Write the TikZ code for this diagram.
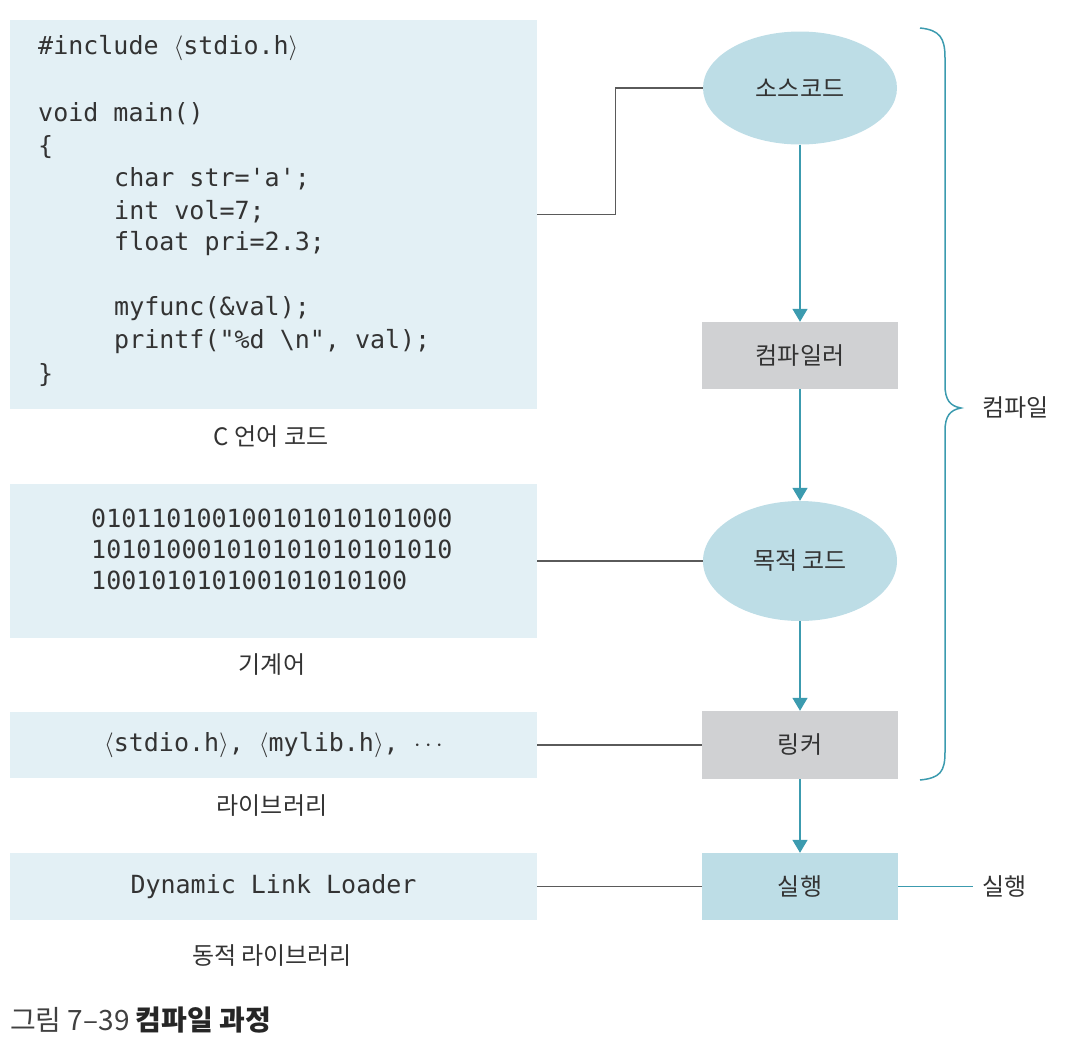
\documentclass[tikz,border=0pt]{standalone}
\usepackage{fontspec}
\setmainfont{Noto Sans CJK KR}
\newfontfamily\kr{Noto Sans CJK KR}
\newfontfamily\cmono{DejaVu Sans Mono}
\usetikzlibrary{shapes.geometric,arrows.meta}
\definecolor{boxfill}{HTML}{E3F0F5}
\definecolor{ellfill}{HTML}{BDDDE6}
\definecolor{grayfill}{HTML}{D0D1D3}
\definecolor{teal}{HTML}{3C9BAF}
\definecolor{conn}{HTML}{5A5A5A}
\definecolor{txt}{HTML}{333333}
\tikzset{
  panel/.style={draw=none,fill=boxfill,rectangle,inner sep=0pt,minimum width=527pt},
  krfont/.style={font=\kr\fontsize{24pt}{28pt}\selectfont},
  oval/.style={ellipse,fill=ellfill,inner sep=0pt,minimum width=194pt,text=txt,krfont},
  procbox/.style={rectangle,fill=grayfill,inner sep=0pt,minimum width=196pt,text=txt,krfont},
  execbox/.style={rectangle,fill=ellfill,inner sep=0pt,minimum width=196pt,text=txt,krfont},
  caption/.style={text=txt,krfont,inner sep=0pt},
  codeline/.style={anchor=west,inner sep=0pt,text=txt,font=\cmono\fontsize{25pt}{28pt}\selectfont},
  binline/.style={anchor=west,inner sep=0pt,text=txt,font=\cmono\fontsize{25pt}{28pt}\selectfont},
  flow/.style={draw=teal,line width=1.6pt,-{Triangle[width=15pt,length=13pt]}},
  link/.style={draw=conn,line width=1.2pt},
}
\begin{document}
\begin{tikzpicture}[x=1pt,y=-1pt]
\useasboundingbox (0,0) rectangle (1066,1042);
% left panels
\node[panel,minimum height=389pt] (code) at (273.5,214.5) {};
\node[panel,minimum height=154pt] (mach) at (273.5,561) {};
\node[panel,minimum height=66pt] (lib) at (273.5,745) {};
\node[panel,minimum height=67pt] (dll) at (273.5,886.5) {};
% code text
\node[codeline] (c1) at (38,48) {\#include $\langle$stdio.h$\rangle$};
\node[codeline] (c2) at (38,114) {void main()};
\node[codeline] (c3) at (38,147) {\{};
\node[codeline] (c4) at (114,179) {char str='a';};
\node[codeline] (c5) at (114,212) {int vol=7;};
\node[codeline] (c6) at (114,244) {float pri=2.3;};
\node[codeline] (c7) at (114,309) {myfunc(\&val);};
\node[codeline] (c8) at (114,342) {printf("\%d \textbackslash n", val);};
\node[codeline] (c9) at (38,375) {\}};
\node[caption] (codecap) at (271,437) {C 언어 코드};
% machine code
\node[binline] (b1) at (91,518) {010110100100101010101000};
\node[binline] (b2) at (91,549) {101010001010101010101010};
\node[binline] (b3) at (91,580) {100101010100101010100};
\node[caption] (machcap) at (272,665) {기계어};
% library
\node[inner sep=0pt,text=txt,font=\cmono\fontsize{25pt}{28pt}\selectfont] (libtxt) at (lib) {$\langle$stdio.h$\rangle$, $\langle$mylib.h$\rangle$, $\cdots$};
\node[caption] (libcap) at (272,806) {라이브러리};
\node[inner sep=0pt,text=txt,font=\cmono\fontsize{25pt}{28pt}\selectfont] (dlltxt) at (dll) {Dynamic Link Loader};
\node[caption] (dllcap) at (272,956) {동적 라이브러리};
% right column
\node[oval,minimum height=113pt] (src) at (800,88) {소스코드};
\node[procbox,minimum height=67pt] (comp) at (800,355.5) {컴파일러};
\node[oval,minimum height=120pt] (obj) at (800,561) {목적 코드};
\node[procbox,minimum height=68pt] (lnk) at (800,745) {링커};
\node[execbox,minimum height=67pt] (exe) at (800,886.5) {실행};
\coordinate (exeend) at (973,886.5);
\node[caption,anchor=west] (execlab) at (982,886.5) {실행};
% connectors
\draw[link] (code.east) -- ++(78,0) |- (src.west);
\draw[link] (mach.east) -- (obj.west);
\draw[link] (lib.east) -- (lnk.west);
\draw[link] (dll.east) -- (exe.west);
\draw[flow] (src.south) -- (comp.north);
\draw[flow] (comp.south) -- (obj.north);
\draw[flow] (obj.south) -- (lnk.north);
\draw[flow] (lnk.south) -- (exe.north);
\draw[draw=teal,line width=1.6pt] (exe.east) -- (exeend);
% brace
\draw[draw=teal,line width=1.5pt]
  (920,28) .. controls (940,30) and (945,38) .. (945,58)
  -- (945,385) .. controls (945,400) and (950,406) .. (961,408)
  .. controls (950,410) and (945,416) .. (945,431)
  -- (945,752) .. controls (945,772) and (940,778) .. (920,780);
\node[caption,anchor=west] (complab) at (982,408) {컴파일};
% figure caption
\node[anchor=west,inner sep=0pt,font=\kr\fontsize{28pt}{32pt}\selectfont,text=black!75] (figcap) at (10,1020) {그림 7–39 {\bfseries\color{black!85}컴파일 과정}};
\end{tikzpicture}
\end{document}
